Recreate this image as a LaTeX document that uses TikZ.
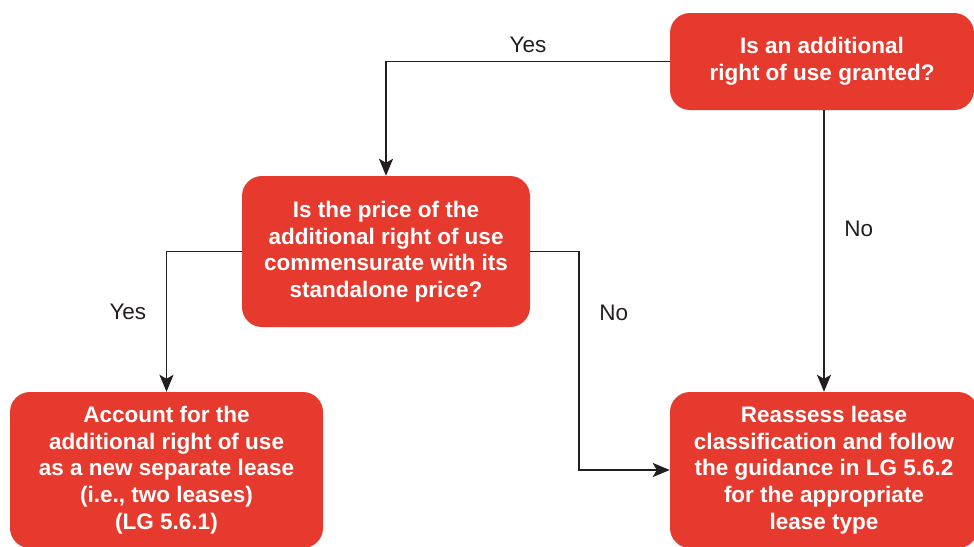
\documentclass[tikz,border=0pt]{standalone}
\usepackage{fontspec}
\setmainfont{Liberation Sans}
\usetikzlibrary{arrows.meta, positioning}
\definecolor{boxred}{RGB}{230,58,46}
\definecolor{linegray}{RGB}{35,31,32}

\begin{document}
\begin{tikzpicture}[x=1pt, y=-1pt,
  box/.style={fill=boxred, rounded corners=20pt, text=white, align=center, inner sep=0pt,
    font=\fontsize{22.5}{26.6}\selectfont\bfseries},
  flow/.style={draw=linegray, line width=1.9pt, -{Stealth[length=17pt, width=14pt, inset=4pt]}},
  lbl/.style={font=\fontsize{22.5}{26}\selectfont, text=linegray}]
\useasboundingbox (0,0) rectangle (974,546);

% questions
\node[box, minimum width=304pt, minimum height=97pt] at (822,61.5) (granted) {Is an additional\\right of use granted?};
\node[box, minimum width=288pt, minimum height=151pt] at (386,251.5) (price) {Is the price of the\\additional right of use\\commensurate with its\\standalone price?};

% outcomes
\node[box, minimum width=313pt, minimum height=156pt] at (166.5,470) (separate) {Account for the\\additional right of use\\as a new separate lease\\(i.e., two leases)\\(LG 5.6.1)};
\node[box, minimum width=308pt, minimum height=156pt] at (824,470) (reassess) {Reassess lease\\classification and follow\\the guidance in LG 5.6.2\\for the appropriate\\lease type};

% connectors
\draw[flow] (granted.west) -| node[lbl, pos=0.25, above=4pt] {Yes} (price.north);
\draw[flow] (granted.south -| reassess.north) -- node[lbl, pos=0.42, right=16pt] {No} (reassess.north);
\draw[flow] (price.west) -| node[lbl, pos=0.715, left=16pt] {Yes} (separate.north);
\draw[flow] (price.east) -- ++(49,0) |- node[lbl, pos=0.14, right=16pt] {No} (reassess.west);

\end{tikzpicture}
\end{document}
